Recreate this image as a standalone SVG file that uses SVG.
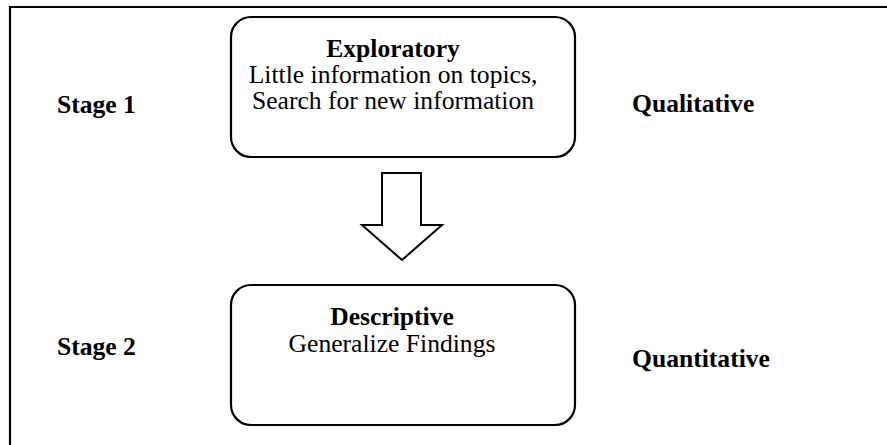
<svg xmlns="http://www.w3.org/2000/svg" width="887" height="445" viewBox="0 0 887 445">
<style>
.box{fill:#fff;stroke:#000;stroke-width:2.2}
.t{font-family:"Liberation Serif","Times New Roman",serif;font-size:25.6px;fill:#000}
.b{font-weight:bold}
.c{text-anchor:middle}
</style>
<rect width="887" height="445" fill="#fff"/>
<g id="frame">
<path d="M10 445 V7 H887" fill="none" stroke="#000" stroke-width="2.2"/>
</g>
<g id="stage1"><text class="t b" x="57" y="113">Stage 1</text></g>
<g id="qualitative"><text class="t b" x="632" y="112">Qualitative</text></g>
<g id="stage2"><text class="t b" x="57" y="355">Stage 2</text></g>
<g id="quantitative"><text class="t b" x="632" y="367">Quantitative</text></g>
<g id="exploratory">
<rect class="box" x="231" y="17" width="344" height="140" rx="20" ry="20"/>
<text class="t c" x="393" y="57"><tspan class="b">Exploratory</tspan><tspan x="393" y="83">Little information on topics,</tspan><tspan x="393" y="109">Search for new information</tspan></text>
</g>
<g id="descriptive">
<rect class="box" x="231" y="285" width="344" height="140" rx="20" ry="20"/>
<text class="t c" x="392" y="325"><tspan class="b">Descriptive</tspan><tspan x="392" y="352">Generalize Findings</tspan></text>
</g>
<g id="connectors">
<path d="M382 173 H421 V225 H442 L402 260 L362 225 H382 Z" fill="#fff" stroke="#000" stroke-width="2"/>
</g>
</svg>
